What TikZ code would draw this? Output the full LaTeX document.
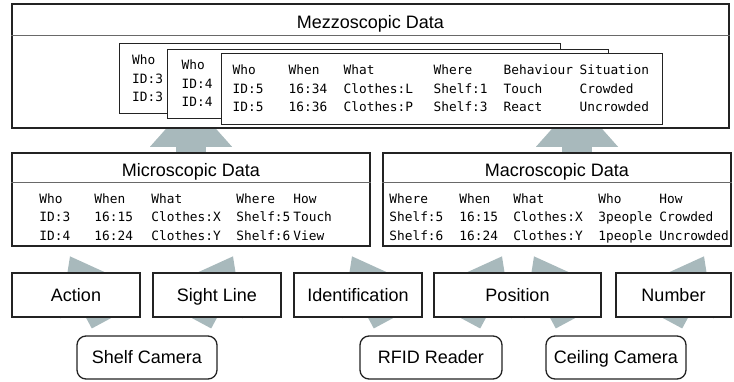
\documentclass[tikz,border=0pt]{standalone}
\usepackage{fontspec}
\setmainfont{Liberation Sans}
\setmonofont{DejaVu Sans Mono}
\usetikzlibrary{arrows.meta,calc,backgrounds}
\definecolor{arrowgray}{RGB}{168,185,188}
\definecolor{edgecolor}{RGB}{35,35,35}
\definecolor{rulecolor}{RGB}{105,105,105}
\newcommand{\labelfont}{\fontsize{18}{21}\selectfont}
\newcommand{\rowfont}{\ttfamily\fontsize{12.8}{18.5}\selectfont}

\tikzset{
  panel/.style={draw=edgecolor, line width=1.5pt, fill=white, inner sep=0pt},
  card/.style={draw=edgecolor, line width=1pt, fill=white, inner sep=0pt, minimum width=441pt},
  feature/.style={draw=edgecolor, line width=1.3pt, fill=white, font=\labelfont,
    text height=12.9pt, text depth=0pt, inner sep=0pt, minimum height=44pt},
  sensor/.style={feature, rounded corners=9pt, minimum height=43pt},
  title/.style={font=\labelfont, text height=12.9pt, text depth=0pt, inner sep=0pt},
  rowtext/.style={font=\rowfont, inner sep=0pt, anchor=base west},
  sepline/.style={draw=rulecolor, line width=1.3pt},
  fatarrow/.style={draw=arrowgray, line width=30pt,
    -{Triangle[length=50pt, width=76pt, line width=0pt]}},
  bigarrow/.style={fatarrow, -{Triangle[length=46pt, width=82pt, line width=0pt]}}
}

\begin{document}
\begin{tikzpicture}[x=1pt, y=-1pt]
\useasboundingbox (0,0) rectangle (734,381);

% -------- Mezzoscopic panel --------
\node[panel, minimum width=717pt, minimum height=124pt] (mezzo) at (370.5,66) {};
\node[title] (mezzoT) at ($(mezzo.north)+(0,18.5)$) {Mezzoscopic Data};
\draw[sepline] ($(mezzo.north west)+(0,32)$) -- ($(mezzo.north east)+(0,32)$);

% stacked cards
\node[card, minimum height=70pt] (card1) at (340,78) {};
\node[rowtext] (rows1) at ($(card1.north west)+(13,22)$)
  {\begin{tabular}[t]{@{}l@{}}Who\\ID:3\\ID:3\end{tabular}};
\node[card, minimum height=69pt] (card2) at (387.5,83.5) {};
\node[rowtext] (rows2) at ($(card2.north west)+(15,21)$)
  {\begin{tabular}[t]{@{}l@{}}Who\\ID:4\\ID:4\end{tabular}};
\node[card, minimum height=71pt] (card3) at (441.5,88.5) {};
\node[rowtext] (rows3) at ($(card3.north west)+(12,22)$)
  {\begin{tabular}[t]{@{}p{56pt}@{}p{55pt}@{}p{90pt}@{}p{70pt}@{}p{76pt}@{}l@{}}
  Who & When & What & Where & Behaviour & Situation\\
  ID:5 & 16:34 & Clothes:L & Shelf:1 & Touch & Crowded\\
  ID:5 & 16:36 & Clothes:P & Shelf:3 & React & Uncrowded
  \end{tabular}};

% -------- Microscopic panel --------
\node[panel, minimum width=358pt, minimum height=93pt] (micro) at (191,199.5) {};
\node[title] (microT) at ($(micro.north)+(0,18)$) {Microscopic Data};
\draw[sepline] ($(micro.north west)+(0,30)$) -- ($(micro.north east)+(0,30)$);
\node[rowtext] (rowsMicro) at ($(micro.north west)+(28,51)$)
  {\begin{tabular}[t]{@{}p{55pt}@{}p{57pt}@{}p{85pt}@{}p{57pt}@{}l@{}}
  Who & When & What & Where & How\\
  ID:3 & 16:15 & Clothes:X & Shelf:5 & Touch\\
  ID:4 & 16:24 & Clothes:Y & Shelf:6 & View
  \end{tabular}};

% -------- Macroscopic panel --------
\node[panel, minimum width=348pt, minimum height=93pt] (macro) at (557,199.5) {};
\node[title] (macroT) at ($(macro.north)+(0,18)$) {Macroscopic Data};
\draw[sepline] ($(macro.north west)+(0,30)$) -- ($(macro.north east)+(0,30)$);
\node[rowtext] (rowsMacro) at ($(macro.north west)+(7,51)$)
  {\begin{tabular}[t]{@{}p{70pt}@{}p{54pt}@{}p{85pt}@{}p{61pt}@{}l@{}}
  Where & When & What & Who & How\\
  Shelf:5 & 16:15 & Clothes:X & 3people & Crowded\\
  Shelf:6 & 16:24 & Clothes:Y & 1people & Uncrowded
  \end{tabular}};

% -------- features --------
\node[feature, minimum width=128pt] (action) at (76,295) {Action};
\node[feature, minimum width=128pt] (sight) at (217,295) {Sight Line};
\node[feature, minimum width=128pt] (ident) at (358,295) {Identification};
\node[feature, minimum width=167pt] (pos) at (517.5,295) {Position};
\node[feature, minimum width=115pt] (num) at (673.5,295) {Number};

% -------- sensors --------
\node[sensor, minimum width=140pt] (shelf) at (147,357.5) {Shelf Camera};
\node[sensor, minimum width=142pt] (rfid) at (431,357.5) {RFID Reader};
\node[sensor, minimum width=140pt] (ceil) at (616,357.5) {Ceiling Camera};

% -------- arrows behind the boxes --------
\begin{scope}[on background layer]
\draw[bigarrow] ($(micro.north)+(0,40)$) -- ($(micro.north |- mezzo.south)+(0,-28)$);
\draw[bigarrow] ($(macro.north)+(20,40)$) -- ($(macro.north |- mezzo.south)+(20,-28)$);
\draw[fatarrow] ($(shelf.north)+(-42,-14)$) -- ($(action.north)+(-6,-16)$);
\draw[fatarrow] ($(shelf.north)+(51,-14)$) -- ($(sight.north)+(16,-16)$);
\draw[fatarrow] ($(rfid.north)+(-44,-14)$) -- ($(ident.north)+(-6,-16)$);
\draw[fatarrow] ($(rfid.north)+(36,-14)$) -- ($(pos.north)+(-15.5,-16)$);
\draw[fatarrow] ($(ceil.north)+(-47,-14)$) -- ($(pos.north)+(16.5,-16)$);
\draw[fatarrow] ($(ceil.north)+(53,-14)$) -- ($(num.north)+(30.5,-16)$);
\end{scope}

\end{tikzpicture}
\end{document}
